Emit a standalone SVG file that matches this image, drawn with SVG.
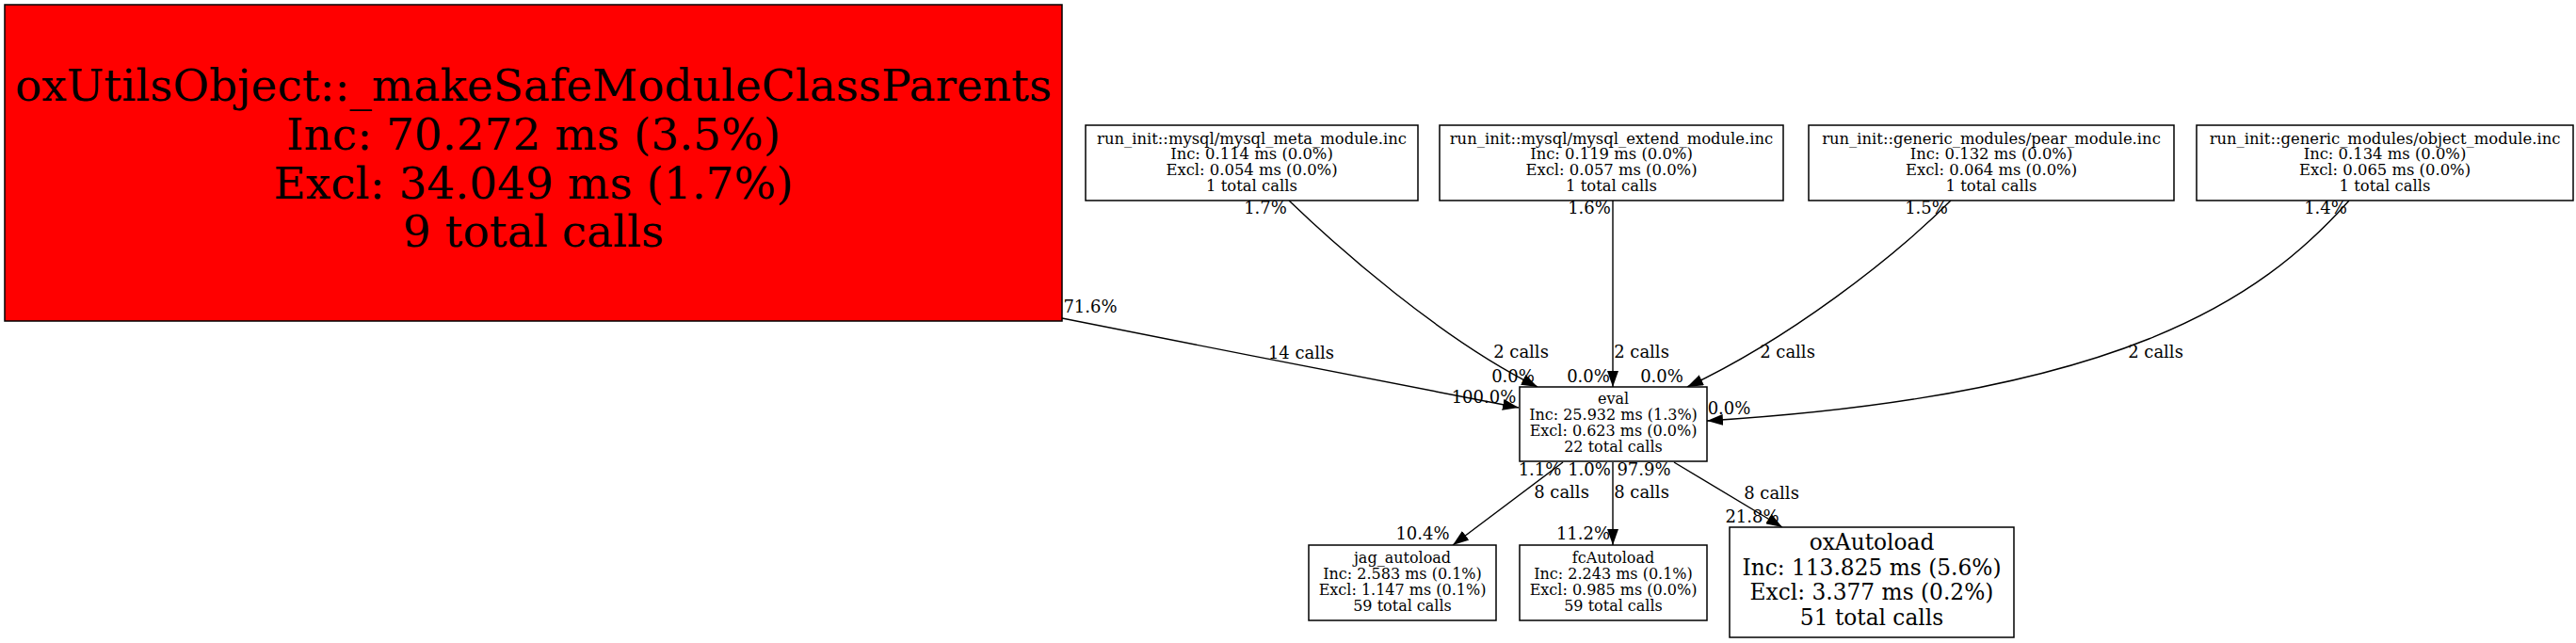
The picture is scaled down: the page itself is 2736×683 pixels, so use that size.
<svg xmlns="http://www.w3.org/2000/svg" width="2736" height="683" viewBox="0 0 2736 683">
<style>
text{font-family:"DejaVu Serif","Liberation Serif",serif;fill:#000;text-anchor:middle}
.box{fill:#fff;stroke:#000;stroke-width:1.5}
.red{fill:#ff0000;stroke:#000;stroke-width:1.5}
.sm{font-size:16px}
.tp{font-size:16.4px}
.md{font-size:23.3px}
.lg{font-size:47px}
.el{font-size:18px}
.edge{fill:none;stroke:#000;stroke-width:1.4;marker-end:url(#arr)}
</style>
<defs>
<marker id="arr" viewBox="0 0 17 12" refX="17" refY="6" markerWidth="17" markerHeight="12" markerUnits="userSpaceOnUse" orient="auto">
<path d="M0,0 L17,6 L0,12 Z" fill="#000"/>
</marker>
</defs>
<rect width="2736" height="683" fill="#fff"/>
<g id="connectors">
<path class="edge" d="M1128,338 C1290,370 1450,402 1613,433"/>
<path class="edge" d="M1369,213 C1420,262 1530,360 1633,411"/>
<path class="edge" d="M1713,213 L1713,411"/>
<path class="edge" d="M2072,213 C2010,275 1900,360 1792,411"/>
<path class="edge" d="M2495,213 C2400,320 2250,420 1813,447"/>
<path class="edge" d="M1660,491 L1543,579"/>
<path class="edge" d="M1713,491 L1713,579"/>
<path class="edge" d="M1778,491 L1893,560"/>
<g class="el">
<text x="1158" y="332">71.6%</text>
<text x="1382" y="381">14 calls</text>
<text x="1576" y="428">100.0%</text>
<text x="1344" y="227">1.7%</text>
<text x="1615.5" y="380">2 calls</text>
<text x="1607" y="406">0.0%</text>
<text x="1688" y="227">1.6%</text>
<text x="1743.5" y="380">2 calls</text>
<text x="1687" y="406">0.0%</text>
<text x="2046" y="227">1.5%</text>
<text x="1898.5" y="380">2 calls</text>
<text x="1765" y="406">0.0%</text>
<text x="2470" y="227">1.4%</text>
<text x="2289.5" y="380">2 calls</text>
<text x="1836.5" y="440">0.0%</text>
<text x="1635.5" y="505">1.1%</text>
<text x="1658.5" y="529">8 calls</text>
<text x="1511" y="573">10.4%</text>
<text x="1688" y="505">1.0%</text>
<text x="1743.5" y="529">8 calls</text>
<text x="1681.5" y="573">11.2%</text>
<text x="1746" y="505">97.9%</text>
<text x="1881.5" y="530">8 calls</text>
<text x="1861" y="555">21.8%</text>
</g>
</g>
<g id="node-makeSafe">
<rect class="red" x="5" y="5" width="1123" height="336"/>
<g class="lg">
<text x="566.5" y="107">oxUtilsObject::_makeSafeModuleClassParents</text>
<text x="566.5" y="159">Inc: 70.272 ms (3.5%)</text>
<text x="566.5" y="211">Excl: 34.049 ms (1.7%)</text>
<text x="566.5" y="262">9 total calls</text>
</g>
</g>
<g id="node-meta">
<rect class="box" x="1153" y="133" width="353" height="80"/>
<g class="tp">
<text x="1329.5" y="152.5">run_init::mysql/mysql_meta_module.inc</text>
<text x="1329.5" y="169.2">Inc: 0.114 ms (0.0%)</text>
<text x="1329.5" y="185.9">Excl: 0.054 ms (0.0%)</text>
<text x="1329.5" y="202.6">1 total calls</text>
</g>
</g>
<g id="node-extend">
<rect class="box" x="1529" y="133" width="365" height="80"/>
<g class="tp">
<text x="1711.5" y="152.5">run_init::mysql/mysql_extend_module.inc</text>
<text x="1711.5" y="169.2">Inc: 0.119 ms (0.0%)</text>
<text x="1711.5" y="185.9">Excl: 0.057 ms (0.0%)</text>
<text x="1711.5" y="202.6">1 total calls</text>
</g>
</g>
<g id="node-pear">
<rect class="box" x="1921" y="133" width="388" height="80"/>
<g class="tp">
<text x="2115" y="152.5">run_init::generic_modules/pear_module.inc</text>
<text x="2115" y="169.2">Inc: 0.132 ms (0.0%)</text>
<text x="2115" y="185.9">Excl: 0.064 ms (0.0%)</text>
<text x="2115" y="202.6">1 total calls</text>
</g>
</g>
<g id="node-object">
<rect class="box" x="2333" y="133" width="400" height="80"/>
<g class="tp">
<text x="2533" y="152.5">run_init::generic_modules/object_module.inc</text>
<text x="2533" y="169.2">Inc: 0.134 ms (0.0%)</text>
<text x="2533" y="185.9">Excl: 0.065 ms (0.0%)</text>
<text x="2533" y="202.6">1 total calls</text>
</g>
</g>
<g id="node-eval">
<rect class="box" x="1614" y="411" width="199" height="79"/>
<g class="sm">
<text x="1713.5" y="429">eval</text>
<text x="1713.5" y="446">Inc: 25.932 ms (1.3%)</text>
<text x="1713.5" y="463">Excl: 0.623 ms (0.0%)</text>
<text x="1713.5" y="480">22 total calls</text>
</g>
</g>
<g id="node-jag">
<rect class="box" x="1390" y="579" width="199" height="80"/>
<g class="sm">
<text x="1489.5" y="597.5">jag_autoload</text>
<text x="1489.5" y="614.5">Inc: 2.583 ms (0.1%)</text>
<text x="1489.5" y="631.5">Excl: 1.147 ms (0.1%)</text>
<text x="1489.5" y="648.5">59 total calls</text>
</g>
</g>
<g id="node-fc">
<rect class="box" x="1614" y="579" width="199" height="80"/>
<g class="sm">
<text x="1713.5" y="597.5">fcAutoload</text>
<text x="1713.5" y="614.5">Inc: 2.243 ms (0.1%)</text>
<text x="1713.5" y="631.5">Excl: 0.985 ms (0.0%)</text>
<text x="1713.5" y="648.5">59 total calls</text>
</g>
</g>
<g id="node-ox">
<rect class="box" x="1837" y="560" width="302" height="117"/>
<g class="md">
<text x="1988" y="584">oxAutoload</text>
<text x="1988" y="611">Inc: 113.825 ms (5.6%)</text>
<text x="1988" y="637">Excl: 3.377 ms (0.2%)</text>
<text x="1988" y="664">51 total calls</text>
</g>
</g>
</svg>
